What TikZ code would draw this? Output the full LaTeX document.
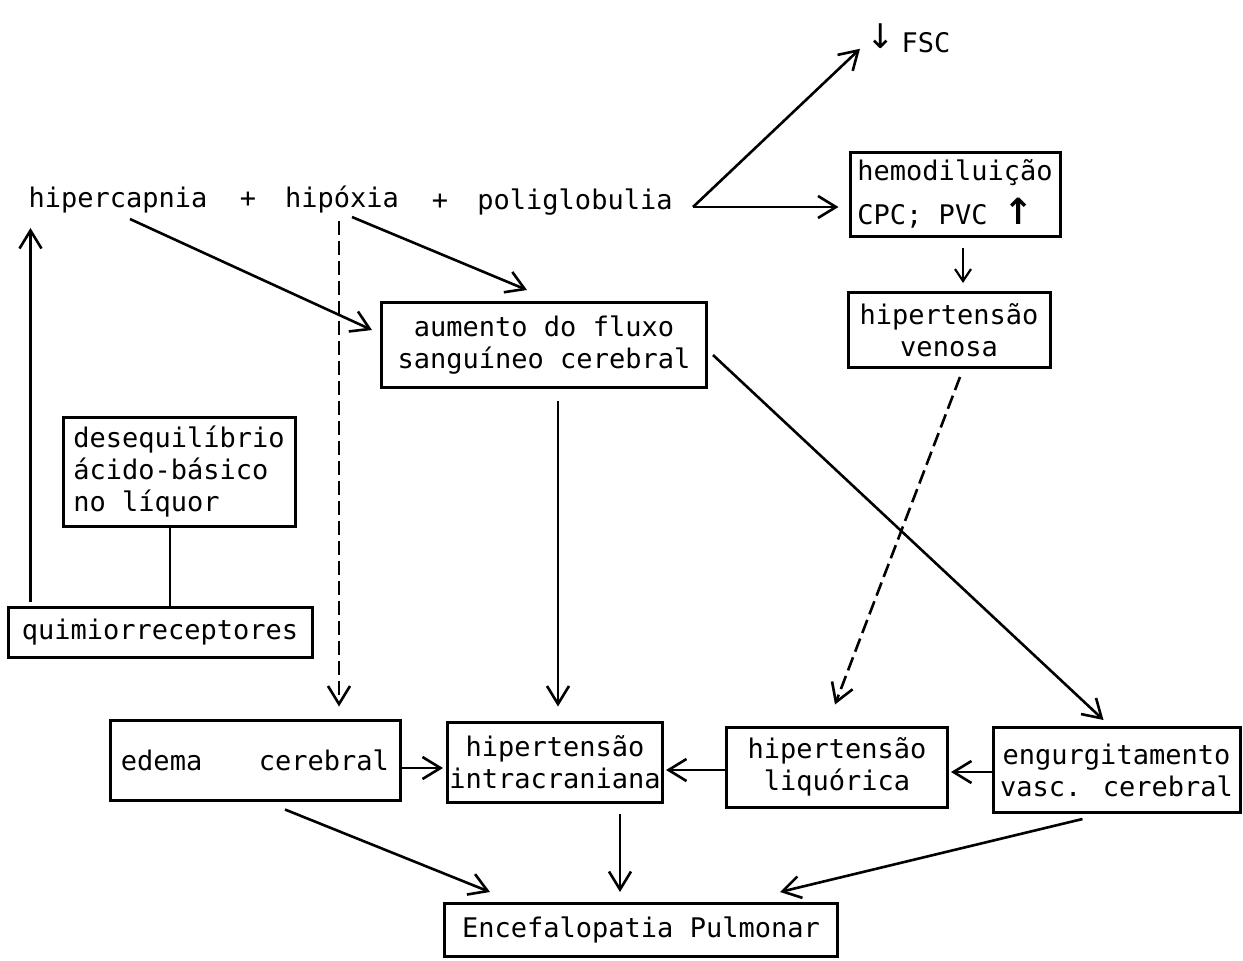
\documentclass[tikz,border=0pt]{standalone}
\usepackage{fontspec}
\newfontfamily\tw{DejaVu Sans Mono}
\newfontfamily\arrfont{DejaVu Sans}
\usetikzlibrary{arrows.meta,calc}
\begin{document}
\begin{tikzpicture}[x=0.5pt,y=-0.5pt,
  every node/.style={font=\tw\fontsize{13.5}{16}\selectfont},
  txt/.style={inner sep=1pt},
  box/.style={draw,line width=1.5pt,inner sep=0pt,align=center},
  arr/.style={line width=1.3pt,-{Straight Barb[length=9pt,width=11pt,line width=1.3pt]}},
  sarr/.style={line width=1.1pt,-{Straight Barb[length=6pt,width=8pt,line width=1.1pt]}},
  dsh/.style={dash pattern=on 7pt off 3pt}]
\useasboundingbox (0,0) rectangle (1243,960);

% top line
\node[txt,anchor=base] (hiper) at (118,207) {hipercapnia};
\node[txt,anchor=base] (p1) at (248,207) {+};
\node[txt,anchor=base] (hipox) at (342,207) {hipóxia};
\node[txt,anchor=base] (p2) at (440,209) {+};
\node[txt,anchor=base] (poli) at (575,209) {poliglobulia};
\coordinate (split) at (693,207);

\node[txt,anchor=base west] (fsc) at (864,52) {\raisebox{2pt}{\arrfont\fontsize{17}{16}\selectfont ↓}\hspace{0.25em}FSC};

% boxes
\node[box,align=left,minimum width=105pt,minimum height=42pt] (hemo) at (955,194) {hemodiluição\\[6pt]CPC; PVC {\arrfont\bfseries\fontsize{18}{16}\selectfont ↑}};
\node[box,minimum width=101pt,minimum height=37.5pt] (venosa) at (949,330) {hipertensão\\venosa};
\node[box,minimum width=162.5pt,minimum height=42.5pt] (aumento) at (544,345) {aumento do fluxo\\sanguíneo cerebral};
\node[box,align=left,minimum width=116pt,minimum height=54.5pt] (deseq) at (179,472) {desequilíbrio\\ácido-básico\\no líquor};
\node[box,minimum width=152pt,minimum height=25pt] (quimio) at (160,632) {quimiorreceptores};
\node[box,minimum width=145pt,minimum height=40pt] (edema) at (255,760) {edema\hspace{2.1em}cerebral};
\node[box,minimum width=107.5pt,minimum height=40pt] (intra) at (555,762) {hipertensão\\intracraniana};
\node[box,minimum width=110.5pt,minimum height=40pt] (liquo) at (837,767) {hipertensão\\liquórica};
\node[box,minimum width=123.5pt,minimum height=42.5pt] (engurg) at (1116.5,770) {engurgitamento\\vasc. cerebral};
\node[box,minimum width=196.5pt,minimum height=26.5pt] (encef) at (641,930) {Encefalopatia Pulmonar};

% connectors
\draw[arr] ($(hiper.south)+(12,4)$) -- ($(aumento.west)+(-8,-15)$);
\draw[arr] ($(hipox.south)+(10,2)$) -- ($(aumento.north)+(-17,-11)$);
\draw[arr,dsh] ($(hipox.south)+(-3,6)$) -- ($(hipox.south |- edema.north)+(-3,-12)$);
\draw[arr] (split) -- ($(fsc.south west)+(-4,-6)$);
\draw[arr] (split) -- ($(hemo.west)+(-10,13)$);
\draw[sarr] ($(hemo.south)+(8,10)$) -- ($(venosa.north)+(14,-8)$);
\draw[arr,dsh] ($(venosa.south)+(11,8)$) -- ($(liquo.north)+(-2,-21)$);
\draw[arr] ($(aumento.south)+(14,12)$) -- ($(intra.north)+(3,-14)$);
\draw[arr] ($(aumento.east)+(5,10)$) -- ($(engurg.north)+(-13,-6)$);
\draw[line width=1.3pt] ($(deseq.south)+(-9,0)$) -- ($(quimio.north)+(10,0)$);
\draw[arr] ($(quimio.north west)+(24,-4)$) -- ($(quimio.north west |- hiper.south)+(24,13)$);
\draw[arr] ($(edema.east)+(0,8)$) -- ($(intra.west)+(-3,6)$);
\draw[arr] ($(liquo.west)+(0,3)$) -- ($(intra.east)+(2,8)$);
\draw[arr] ($(engurg.west)+(0,2)$) -- ($(liquo.east)+(2,5)$);
\draw[arr] ($(edema.south)+(30,8)$) -- ($(encef.north)+(-151,-10)$);
\draw[arr] ($(intra.south)+(65,10)$) -- ($(encef.north)+(-21,-10)$);
\draw[arr] ($(engurg.south)+(-34,5)$) -- ($(encef.north)+(139,-10)$);
\end{tikzpicture}
\end{document}
